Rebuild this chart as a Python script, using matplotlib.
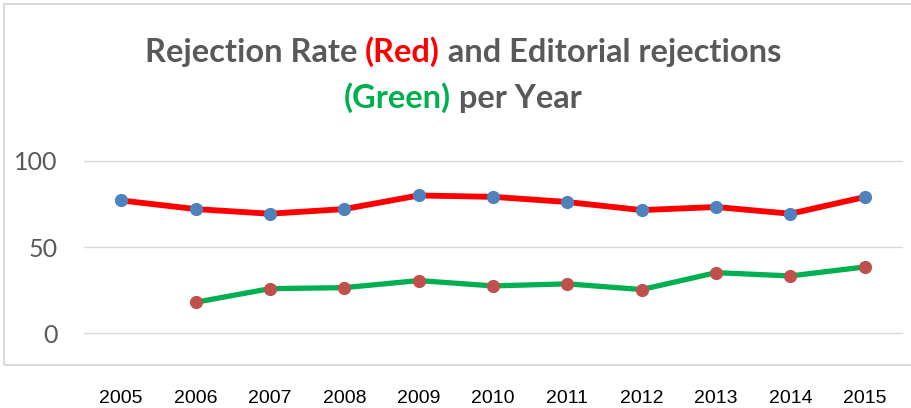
import matplotlib
matplotlib.use("Agg")
import matplotlib.pyplot as plt
from matplotlib.patches import Rectangle

# data
years = [2005, 2006, 2007, 2008, 2009, 2010, 2011, 2012, 2013, 2014, 2015]
rejection_rate = [77.1, 72.1, 69.4, 72.1, 80.0, 79.2, 76.2, 71.5, 73.3, 69.4, 79.1]
green_years = [2006, 2007, 2008, 2009, 2010, 2011, 2012, 2013, 2014, 2015]
editorial = [18.0, 25.9, 26.5, 30.6, 27.5, 28.7, 25.4, 35.2, 33.3, 38.5]
y_ticks = [0, 50, 100]

W, H = 912, 408
fig = plt.figure(figsize=(W / 100, H / 100), dpi=100)
fig.patch.set_facecolor("white")

# outer frame of the chart area (open on the right)
fig.patches.append(Rectangle((4 / W, 1 - 365 / H), 1.0, (365 - 4) / H,
                             transform=fig.transFigure, fill=False,
                             edgecolor="#d9d9d9", linewidth=1.5))

ax = fig.add_axes([84 / W, 1 - 333.3 / H, 818 / W, (333.3 - 161) / H])
ax.plot(years, rejection_rate, color="#ff0000", linewidth=4.2, zorder=3,
        marker="o", markersize=8.5, markerfacecolor="#4f81bd",
        markeredgecolor="#4f81bd", clip_on=False)
ax.plot(green_years, editorial, color="#00b050", linewidth=3.8, zorder=3,
        marker="o", markersize=8.5, markerfacecolor="#c0504d",
        markeredgecolor="#c0504d", clip_on=False)

ax.set_xlim(2004.5, 2015.5)
ax.set_ylim(0, 100)
ax.set_yticks(y_ticks)
ax.set_xticks(years)
ax.set_xticklabels([str(y) for y in years], fontsize=14,
                   family=["Liberation Sans", "DejaVu Sans"], color="black")
ax.set_yticklabels([str(v) for v in y_ticks], fontsize=18,
                   family=["Lato", "DejaVu Sans"], color="#595959")
ax.tick_params(axis="x", length=0, pad=41)
ax.tick_params(axis="y", length=0, pad=19)
ax.grid(axis="y", color="#d9d9d9", linewidth=1.0)
for gl in ax.get_ygridlines():
    gl.set_clip_on(False)
ax.set_axisbelow(True)
for s in ax.spines.values():
    s.set_visible(False)

# two line title with coloured words
gray, red, green = "#595959", "#ff0000", "#00b050"
lines = [
    (1 - 62 / H, [("Rejection Rate ", gray), ("(Red)", red),
                  (" and Editorial rejections", gray)]),
    (1 - 108 / H, [("(Green)", green), (" per Year", gray)]),
]
fam = ["Lato", "DejaVu Sans"]
renderer = fig.canvas.get_renderer()

# pick a size so the first line is about as wide as in the original
probe = fig.text(0, 0, "".join(p[0] for p in lines[0][1]), fontsize=20,
                 fontweight="bold", family=fam)
title_size = 20 * 637 / probe.get_window_extent(renderer).width
probe.remove()

for ypos, parts in lines:
    texts = []
    x = 0.0
    for txt, col in parts:
        t = fig.text(x, ypos, txt, color=col, fontsize=title_size,
                     fontweight="bold", family=fam, va="baseline", ha="left")
        bb = t.get_window_extent(renderer)
        x += bb.width / W
        texts.append(t)
    x = 0.5 * 926 / W - x / 2
    for t in texts:
        bb = t.get_window_extent(renderer)
        t.set_x(x)
        x += bb.width / W

fig.savefig("out.png", dpi=100, facecolor="white")
